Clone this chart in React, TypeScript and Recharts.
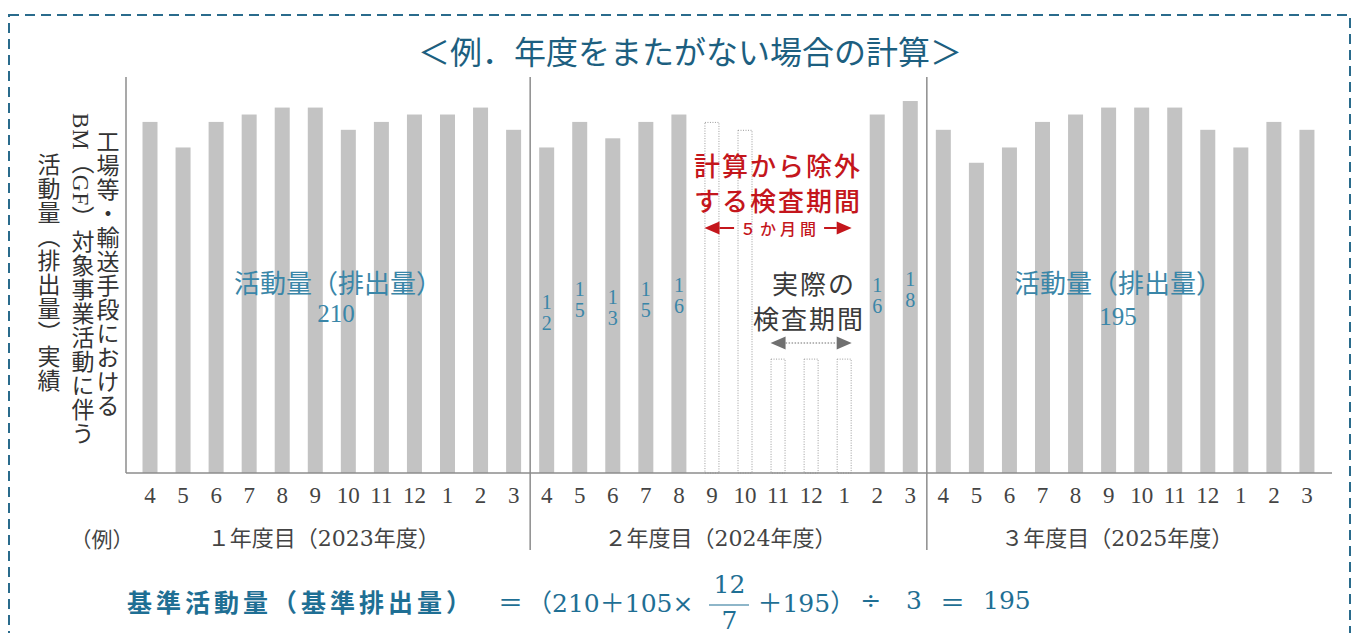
import { BarChart, Bar, XAxis, YAxis, ReferenceLine } from 'recharts'

// 月の並び（年度は4月始まり）
const MONTHS = ['4', '5', '6', '7', '8', '9', '10', '11', '12', '1', '2', '3']

// 年度ごとの月別活動量
const FY2023 = [15, 12, 15, 16, 17, 17, 14, 15, 16, 16, 17, 14]
const FY2024 = [12, 15, 13, 15, 16, 15, 14, 1.9, 1.9, 1.9, 16, 18]
const FY2025 = [14, 10.5, 12, 15, 16, 17, 17, 17, 14, 12, 15, 14]

const YEAR_LABELS = ['１年度目（2023年度）', '２年度目（2024年度）', '３年度目（2025年度）']

// 2024年度：計算から除外する月 / 実際に検査していた月
const EXCLUDED_2024 = ['9', '10', '11', '12', '1']
const INSPECTION_2024 = ['11', '12', '1']

const data = [FY2023, FY2024, FY2025].flatMap((values, year) =>
  values.map((value, i) => {
    const excluded = year === 1 && EXCLUDED_2024.includes(MONTHS[i])
    return {
      key: `${year}-${MONTHS[i]}`,
      month: MONTHS[i],
      year,
      value,
      excluded,
      inspection: year === 1 && INSPECTION_2024.includes(MONTHS[i]),
      showValue: year === 1 && !excluded,
    }
  })
)

const SANS = "'Noto Sans CJK JP', sans-serif"
const SERIF = "'Liberation Serif', 'Noto Sans CJK JP', serif"
const WIDE_SERIF = "'DejaVu Serif', 'Noto Sans CJK JP', serif"
const TEAL_DARK = '#1d5f80'
const TEAL = '#3a86a8'
const FORMULA = '#1f6f94'
const RED = '#c4161c'
const AXIS = '#8c8c8c'
const BAR = '#c3c3c3'

// プロット領域
const PLOT_LEFT = 126
const PLOT_RIGHT = 1332
const PLOT_TOP = 77
const PLOT_BOTTOM = 473
const PAD_LEFT = 7.5
const PAD_RIGHT = 8.5
const BAR_SIZE = 15
const BAND = (PLOT_RIGHT - PLOT_LEFT - PAD_LEFT - PAD_RIGHT) / data.length
const barLeft = (i: number) => PLOT_LEFT + PAD_LEFT + BAND * (i + 0.5) - BAR_SIZE / 2
const barRight = (i: number) => barLeft(i) + BAR_SIZE

function MonthBar(props: any) {
  const { x, y, width, height, payload } = props
  if (!payload || height <= 0) return null
  if (payload.excluded) {
    return (
      <rect x={x + 0.5} y={y + 0.5} width={width - 1} height={height - 0.5}
        fill="#fff" stroke="#9b9b9b" strokeWidth={1} strokeDasharray="1 1.5" />
    )
  }
  const digits = String(payload.value).split('')
  const cx = x + width / 2
  const cy = y + height / 2 + 2
  return (
    <g>
      <rect x={x} y={y} width={width} height={height} fill={BAR} />
      {payload.showValue && digits.map((d, k) => (
        <text key={k} x={cx} y={cy + (k - (digits.length - 1) / 2) * 21}
          textAnchor="middle" dominantBaseline="central"
          fontFamily={SERIF} fontSize={20} fill={TEAL}>{d}</text>
      ))}
    </g>
  )
}

function MonthTick(props: any) {
  const { x, y, payload } = props
  const i = props.index ?? payload.index
  const row = data[i]
  if (!row) return null
  const half = payload.offset ?? BAND / 2
  const inYear = i % 12
  return (
    <g>
      <text x={x} y={y + 14} textAnchor="middle" dominantBaseline="central"
        fontFamily={SERIF} fontSize={23} fill="#444">{row.month}</text>
      {inYear === 5 && (
        <text x={x + half - 8} y={y + 57} textAnchor="middle" dominantBaseline="central"
          fontFamily={WIDE_SERIF} fontSize={22} fill="#444">{YEAR_LABELS[row.year]}</text>
      )}
      {i === 0 && (
        <text x={x - 48} y={y + 57} textAnchor="middle" dominantBaseline="central"
          fontFamily={SANS} fontSize={21} fill="#444">（例）</text>
      )}
      {inYear === 11 && i < data.length - 1 && (
        <line x1={x + half} x2={x + half} y1={y - 8} y2={y + 69} stroke={AXIS} strokeWidth={1.5} />
      )}
    </g>
  )
}

function Arrow({ x1, x2, y, color, gap, line }: { x1: number, x2: number, y: number, color: string, gap?: [number, number], line: 'solid' | 'dotted' }) {
  const head = 15
  const dash = line === 'dotted' ? '1.5 1.5' : undefined
  const lw = line === 'dotted' ? 1 : 2
  return (
    <g>
      {gap ? (
        <>
          <line x1={x1 + head} x2={gap[0]} y1={y} y2={y} stroke={color} strokeWidth={lw} />
          <line x1={gap[1]} x2={x2 - head} y1={y} y2={y} stroke={color} strokeWidth={lw} />
        </>
      ) : (
        <line x1={x1 + head} x2={x2 - head} y1={y} y2={y} stroke={color} strokeWidth={lw} strokeDasharray={dash} />
      )}
      <polygon points={`${x1},${y} ${x1 + head},${y - 6.5} ${x1 + head},${y + 6.5}`} fill={color} />
      <polygon points={`${x2},${y} ${x2 - head},${y - 6.5} ${x2 - head},${y + 6.5}`} fill={color} />
    </g>
  )
}

const firstExcluded = data.findIndex(d => d.excluded)
const lastExcluded = data.map(d => d.excluded).lastIndexOf(true)
const firstInspection = data.findIndex(d => d.inspection)
const lastInspection = data.map(d => d.inspection).lastIndexOf(true)

function Annotations() {
  const redL = barLeft(firstExcluded)
  const redR = barRight(lastExcluded)
  const redMid = (redL + redR) / 2 + 2
  return (
    <svg width={1355} height={633} style={{ position: 'absolute', left: 0, top: 0, pointerEvents: 'none' }}>
      <text x={690} y={50} textAnchor="middle" dominantBaseline="central"
        fontFamily={SANS} fontSize={32} fill={TEAL_DARK}>＜例．年度をまたがない場合の計算＞</text>

      <g fontFamily={SANS} fontSize={26} fill={TEAL} textAnchor="middle" dominantBaseline="central">
        <text x={338} y={281}>活動量（排出量）</text>
        <text x={1118} y={281}>活動量（排出量）</text>
      </g>
      <g fontFamily={SERIF} fontSize={25} fill={TEAL} textAnchor="middle" dominantBaseline="central">
        <text x={336} y={313}>210</text>
        <text x={1118} y={316}>195</text>
      </g>

      <g fontFamily={SANS} fontSize={26} fontWeight={500} fill={RED} textAnchor="middle" dominantBaseline="central" letterSpacing={2}>
        <text x={778} y={164}>計算から除外</text>
        <text x={778} y={199}>する検査期間</text>
      </g>
      <Arrow x1={redL} x2={redR} y={228} color={RED} line="solid" gap={[redMid - 46, redMid + 44]} />
      <text x={redMid} y={228} textAnchor="middle" dominantBaseline="central"
        fontFamily={SANS} fontSize={16} fontWeight={500} fill={RED} letterSpacing={4}>５か月間</text>

      <g fontFamily={SANS} fontSize={26} fill="#3a3a3a" textAnchor="middle" dominantBaseline="central" letterSpacing={2}>
        <text x={814} y={282}>実際の</text>
        <text x={809} y={317}>検査期間</text>
      </g>
      <Arrow x1={barLeft(firstInspection)} x2={barRight(lastInspection)} y={343} color="#707070" line="dotted" />
    </svg>
  )
}

function AxisTitle() {
  const col = (left: number, top: number, text: string, font = SANS) => (
    <div style={{
      position: 'absolute', left, top, writingMode: 'vertical-rl', fontFamily: font,
      fontSize: 23, lineHeight: '26px', letterSpacing: 1, color: '#333', whiteSpace: 'nowrap',
    }}>{text}</div>
  )
  return (
    <>
      {col(95, 130, '工場等・輸送手段における')}
      {col(67, 113, 'BM（GF）対象事業活動に伴う', SERIF)}
      {col(36, 153, '活動量（排出量）実績')}
    </>
  )
}

function Formula() {
  const op = (s: string, l: number, r: number) => <span style={{ margin: `0 ${r}px 0 ${l}px` }}>{s}</span>
  return (
    <div style={{
      position: 'absolute', left: 127, top: 600, transform: 'translateY(-50%)',
      display: 'flex', alignItems: 'center', whiteSpace: 'nowrap',
      fontFamily: WIDE_SERIF, fontSize: 25, color: FORMULA,
    }}>
      <span style={{ fontFamily: SANS, fontWeight: 700, letterSpacing: 4 }}>基準活動量（基準排出量）</span>
      {op('＝', 23, 4)}
      <span>（210＋105×</span>
      <span style={{ display: 'inline-flex', flexDirection: 'column', alignItems: 'center', margin: '0 8px 0 16px' }}>
        <span style={{ lineHeight: '40px' }}>12</span>
        <span style={{ borderTop: `1.5px solid ${FORMULA}`, width: 40, textAlign: 'center', lineHeight: '30px' }}>7</span>
      </span>
      <span>＋195）</span>
      {op('÷', 5, 25)}
      <span>3</span>
      {op('＝', 18, 18)}
      <span>195</span>
    </div>
  )
}

export default function App() {
  return (
    <div style={{ position: 'absolute', left: 0, top: 0, width: 1355, height: 633, overflow: 'hidden', background: '#fff', fontFamily: SANS }}>
      <svg width={1355} height={633} style={{ position: 'absolute', left: 0, top: 0 }}>
        <rect x={9} y={15} width={1341} height={700} fill="none" stroke="#2a6b8c" strokeWidth={2} strokeDasharray="10 6" />
      </svg>
      <div style={{ position: 'absolute', left: 0, top: 0 }}>
        <BarChart width={1355} height={633} data={data}
          margin={{ top: PLOT_TOP, right: 1355 - PLOT_RIGHT, bottom: 633 - PLOT_BOTTOM - 80, left: PLOT_LEFT - 60 }}>
          <XAxis dataKey="key" height={80} interval={0} tickLine={false}
            axisLine={{ stroke: AXIS, strokeWidth: 1.5 }} padding={{ left: PAD_LEFT, right: PAD_RIGHT }}
            tick={<MonthTick />} />
          <YAxis type="number" scale="log" domain={[0.7, 22.2]} width={60} tick={false} tickLine={false}
            axisLine={{ stroke: AXIS, strokeWidth: 1.5 }} />
          <ReferenceLine x={data[11].key} position="end" stroke={AXIS} strokeWidth={1.5} />
          <ReferenceLine x={data[23].key} position="end" stroke={AXIS} strokeWidth={1.5} />
          <Bar dataKey="value" barSize={BAR_SIZE} shape={<MonthBar />} isAnimationActive={false} />
        </BarChart>
      </div>
      <Annotations />
      <AxisTitle />
      <Formula />
    </div>
  )
}
